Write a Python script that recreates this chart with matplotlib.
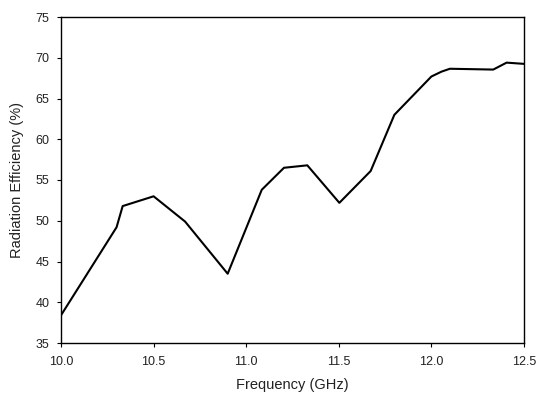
import matplotlib
matplotlib.use("Agg")
import matplotlib.pyplot as plt

plt.rcParams['font.family'] = ['Liberation Sans', 'DejaVu Sans']

freq = [10.0, 10.30, 10.333, 10.5, 10.67, 10.9, 11.084, 11.204, 11.33, 11.503,
        11.672, 11.80, 12.0, 12.055, 12.1, 12.217, 12.334, 12.406, 12.5]
eff = [38.4, 49.2, 51.8, 53.0, 49.9, 43.5, 53.8, 56.5, 56.8, 52.2,
       56.1, 63.0, 67.7, 68.3, 68.65, 68.6, 68.55, 69.4, 69.25]

xticks = [10.0, 10.5, 11.0, 11.5, 12.0, 12.5]
yticks = [35, 40, 45, 50, 55, 60, 65, 70, 75]

fig = plt.figure(figsize=(5.37, 3.96), dpi=100)
ax = fig.add_axes([61/537, 1 - 343/396, (524 - 61)/537, (343 - 17)/396])
ax.plot(freq, eff, color='black', linewidth=1.5)
ax.set_xlim(10.0, 12.5)
ax.set_ylim(35, 75)
ax.set_xticks(xticks)
ax.set_xticklabels([f"{t:.1f}" for t in xticks])
ax.set_yticks(yticks)
ax.tick_params(direction='out', length=3.2, width=0.8, labelsize=9,
               colors='black', labelcolor='#222222')
ax.tick_params(axis='x', pad=6)
ax.tick_params(axis='y', pad=5)
for s in ax.spines.values():
    s.set_linewidth(1.0)
ax.set_xlabel('Frequency (GHz)', fontsize=10.5, labelpad=7, color='#222222')
ax.set_ylabel('Radiation Efficiency (%)', fontsize=10.5, labelpad=8, color='#222222')
fig.savefig('out.png', dpi=100)
